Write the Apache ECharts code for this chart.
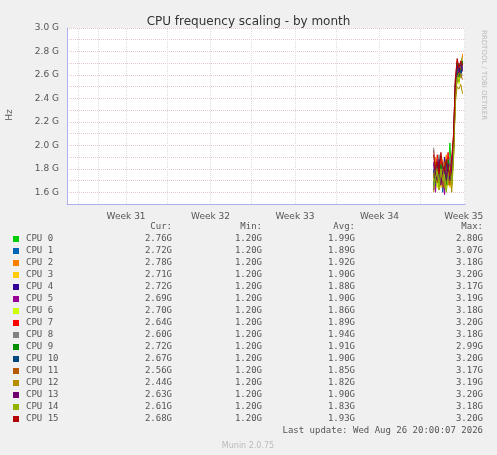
<!DOCTYPE html>
<html><head><meta charset="utf-8">
<script src="https://cdn.jsdelivr.net/npm/echarts@6/dist/echarts.min.js"></script>
<style>html,body{margin:0;padding:0;background:#F0F0F0}#c{width:497px;height:455px}</style>
</head><body><div id="c"></div>
<script>
const times=[30.40,30.55,30.70,30.85,31.00,31.15,31.30,31.45,31.60,31.75,31.90,32.05,32.20,32.35,32.50,32.65,32.80];
const names=['CPU 0','CPU 1','CPU 2','CPU 3','CPU 4','CPU 5','CPU 6','CPU 7','CPU 8','CPU 9','CPU 10','CPU 11','CPU 12','CPU 13','CPU 14','CPU 15'];
const colors=['#00CC00','#0066B3','#FF8000','#FFCC00','#330099','#990099','#CCFF00','#FF0000','#808080','#008F00','#00487D','#B35A00','#B38F00','#6B006B','#8FB300','#B30000'];
const values=[
[1.72,1.85,1.66,1.90,1.70,1.78,1.62,1.84,1.75,2.02,1.70,1.95,2.40,2.62,2.55,2.70,2.76],
[1.80,1.65,1.88,1.72,1.80,1.60,1.83,1.70,1.86,1.68,1.78,2.05,2.50,2.70,2.60,2.66,2.72],
[1.68,1.90,1.74,1.62,1.86,1.73,1.78,1.92,1.66,1.80,1.75,1.98,2.45,2.58,2.68,2.62,2.78],
[1.75,1.70,1.82,1.78,1.64,1.88,1.70,1.76,1.82,1.64,1.86,2.00,2.52,2.60,2.56,2.70,2.71],
[1.62,1.78,1.70,1.86,1.75,1.66,1.90,1.68,1.72,1.85,1.66,1.92,2.42,2.66,2.62,2.58,2.72],
[1.86,1.60,1.78,1.70,1.82,1.74,1.58,1.80,1.70,1.76,1.82,2.02,2.48,2.55,2.70,2.64,2.69],
[1.70,1.82,1.64,1.76,1.68,1.84,1.74,1.62,1.80,1.72,1.64,1.90,2.44,2.62,2.52,2.68,2.70],
[1.96,1.74,1.92,1.80,1.90,1.70,1.85,1.78,1.94,1.72,1.84,2.10,2.55,2.72,2.60,2.66,2.64],
[1.98,1.70,1.80,1.92,1.74,1.86,1.68,1.82,1.76,1.90,1.78,2.06,2.58,2.64,2.70,2.58,2.60],
[1.66,1.80,1.72,1.68,1.84,1.76,1.80,1.66,1.88,1.74,1.70,1.96,2.46,2.70,2.58,2.64,2.72],
[1.78,1.68,1.84,1.74,1.70,1.82,1.76,1.86,1.68,1.80,1.76,2.00,2.50,2.60,2.66,2.62,2.67],
[1.72,1.86,1.68,1.82,1.78,1.64,1.86,1.74,1.78,1.66,1.82,1.94,2.40,2.56,2.62,2.60,2.56],
[1.60,1.74,1.80,1.66,1.76,1.80,1.64,1.72,1.66,1.78,1.60,1.88,2.36,2.50,2.48,2.52,2.44],
[1.84,1.76,1.70,1.88,1.66,1.78,1.82,1.70,1.84,1.70,1.80,2.04,2.52,2.68,2.62,2.70,2.63],
[1.64,1.72,1.78,1.62,1.80,1.70,1.74,1.60,1.74,1.82,1.68,1.90,2.42,2.58,2.54,2.60,2.61],
[1.92,1.80,1.86,1.76,1.94,1.82,1.78,1.88,1.80,1.74,1.90,2.08,2.56,2.74,2.66,2.72,2.68]];
const cur=['2.76G','2.72G','2.78G','2.71G','2.72G','2.69G','2.70G','2.64G','2.60G','2.72G','2.67G','2.56G','2.44G','2.63G','2.61G','2.68G'];
const mins=Array(16).fill('1.20G');
const avgs=['1.99G','1.89G','1.92G','1.90G','1.88G','1.90G','1.86G','1.89G','1.94G','1.91G','1.90G','1.85G','1.82G','1.90G','1.83G','1.93G'];
const maxs=['2.80G','3.07G','3.18G','3.20G','3.17G','3.19G','3.18G','3.20G','3.18G','2.99G','3.20G','3.17G','3.19G','3.20G','3.18G','3.20G'];
const weekTicks=[4.9,11.9,18.9,25.9,32.9];
const weekLabels=['Week 31','Week 32','Week 33','Week 34','Week 35'];

const mono='DejaVu Sans Mono',fs=9,tc='#555';
const g=[];
const txt=(x,y,t,align,fill,size,font)=>g.push({type:'text',x,y,style:{text:t,fill:fill||tc,font:(size||fs)+'px "'+(font||mono)+'"',textAlign:align||'left',textVerticalAlign:'middle'}});
txt(172,227,'Cur:','right');txt(262,227,'Min:','right');txt(355,227,'Avg:','right');txt(483,227,'Max:','right');
names.forEach((n,i)=>{const y=239+12*i;
 g.push({type:'rect',shape:{x:13,y:y-3,width:6,height:6},style:{fill:colors[i]}});
 txt(26,y,n);txt(172,y,cur[i],'right');txt(262,y,mins[i],'right');txt(355,y,avgs[i],'right');txt(483,y,maxs[i],'right');});
txt(483,431,'Last update: Wed Aug 26 20:00:07 2026','right');
txt(248,446,'Munin 2.0.75','center','#bbb',8,'DejaVu Sans');
g.push({type:'text',x:484,y:30,rotation:-Math.PI/2,style:{text:'RRDTOOL / TOBI OETIKER',fill:'#bbb',font:'7px "DejaVu Sans"',textVerticalAlign:'middle'}});
g.push({type:'text',x:10,y:115,rotation:Math.PI/2,style:{text:'Hz',fill:tc,font:'9px "DejaVu Sans"',textAlign:'center',textVerticalAlign:'middle'}});

const chart=echarts.init(document.getElementById('c'));
chart.setOption({
 backgroundColor:'#F0F0F0',animation:false,
 title:{text:'CPU frequency scaling - by month',left:'center',top:11,textStyle:{fontFamily:'DejaVu Sans',fontSize:12,fontWeight:'normal',color:'#333'}},
 grid:{left:67,right:32,top:28,bottom:251,backgroundColor:'#fff',show:true,borderWidth:0},
 xAxis:{type:'value',min:0,max:33,
  axisLine:{lineStyle:{color:'#b0b0f0'}},axisTick:{show:false},
  axisLabel:{customValues:weekTicks,formatter:v=>weekLabels[weekTicks.indexOf(v)]||'',color:tc,fontFamily:'DejaVu Sans',fontSize:9},
  splitLine:{show:false}},
 yAxis:{type:'value',min:1.5,max:3.0,interval:0.1,
  axisLine:{show:true,lineStyle:{color:'#b0b0f0'}},axisTick:{show:false},
  axisLabel:{formatter:v=>{const k=Math.round(v*10);return k%2===0?(v.toFixed(1)+' G'):'';},color:tc,fontFamily:'DejaVu Sans',fontSize:9},
  splitLine:{lineStyle:{color:'#e8c8c8',type:'dotted'}}},
 series:[...names.map((n,i)=>({type:'line',name:n,data:times.map((t,j)=>[t,values[i][j]]),symbol:'none',lineStyle:{width:1,color:colors[i]},z:2})),
  {type:'line',data:[],markLine:{silent:true,symbol:'none',label:{show:false},lineStyle:{color:'#ddd',type:'dotted',width:1},data:[0.9,2.6,4.9,8.3,11.9,15.3,18.9,22.3,25.9,29.3,32.9].map(x=>({xAxis:x}))}}],
 graphic:g
});
</script></body></html>
